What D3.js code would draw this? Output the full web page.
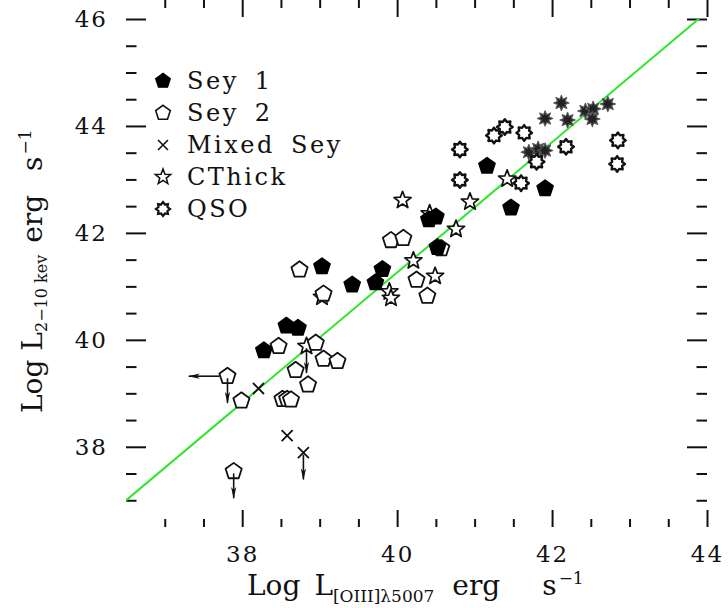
<!DOCTYPE html>
<html>
<head>
<meta charset="utf-8">
<script src="https://cdn.jsdelivr.net/npm/d3@7"></script>
<style>
  body { margin: 0; background: #fff; }
  text { font-family: "DejaVu Serif", serif; fill: #111; }
</style>
</head>
<body>
<svg width="728" height="608"></svg>
<script>
//************************* DATA ***************************//

// [log L_OIII, log L_2-10keV]
var sey1 = [
  [38.28, 39.80], [38.57, 40.26], [38.72, 40.22], [39.03, 41.37], [39.42, 41.03],
  [39.72, 41.07], [39.81, 41.32], [40.41, 42.25], [40.50, 42.30], [40.52, 41.73],
  [41.16, 43.25], [41.47, 42.47], [41.91, 42.83]
];
var sey2 = [
  [37.81, 39.32], [37.99, 38.86], [37.89, 37.54], [38.47, 39.88], [38.52, 38.89],
  [38.58, 38.89], [38.63, 38.88], [38.69, 39.43], [38.85, 39.16], [38.95, 39.94],
  [39.05, 39.64], [39.23, 39.60], [38.74, 41.31], [39.05, 40.86], [39.92, 41.86],
  [40.08, 41.90], [40.25, 41.12], [40.39, 40.82], [40.57, 41.71]
];
var mixedSey = [[38.21, 39.09], [38.58, 38.21], [38.79, 37.89]];
var cthick = [
  [38.83, 39.88], [39.03, 40.80], [39.90, 40.90], [39.92, 40.78], [40.07, 42.61],
  [40.21, 41.48], [40.49, 41.19], [40.42, 42.36], [40.76, 42.07], [40.94, 42.58],
  [41.42, 43.01]
];
var qso = [
  [40.81, 43.56], [40.81, 42.99], [41.25, 43.82], [41.39, 43.98], [41.64, 43.87],
  [41.60, 42.93], [41.80, 43.33], [42.18, 43.61], [42.85, 43.73], [42.84, 43.29]
];
// darker starburst points (not in legend)
var qsoDark = [
  [41.70, 43.51], [41.82, 43.57], [41.91, 43.54], [41.91, 44.14], [42.12, 44.43],
  [42.20, 44.11], [42.43, 44.28], [42.53, 44.32], [42.52, 44.13], [42.72, 44.41]
];

// upper limits
var limitsDown = [[37.81, 39.32], [37.89, 37.54], [38.79, 37.89], [38.83, 39.88]];
var limitsLeft = [[37.81, 39.32]];

// linear relation
var fitSlope = 1.218;
var fitIntercept = -7.46;

var legendLabels = ["Sey 1", "Sey 2", "Mixed Sey", "CThick", "QSO"];
var xMajor = [38, 40, 42, 44];
var yMajor = [38, 40, 42, 44, 46];

//************************* CHART ***************************//

var svg = d3.select("svg");

var x = d3.scaleLinear().domain([36.5, 44]).range([126, 707]);
var y = d3.scaleLinear().domain([36.5, 46]).range([527, 19]);

var xMinor = d3.range(37, 44, 0.5).filter(function (v) { return v % 2 !== 0; });
var yMinor = d3.range(37, 46, 0.5).filter(function (v) { return v % 2 !== 0; });

// Shapes
function polygon(n, r) {
  var pts = d3.range(n).map(function (i) {
    var a = 2 * Math.PI * i / n - Math.PI / 2;
    return [r * Math.cos(a), r * Math.sin(a)];
  });
  return d3.line()(pts) + "Z";
}
function starPath(n, ro, ri) {
  var pts = d3.range(2 * n).map(function (i) {
    var r = i % 2 ? ri : ro, a = Math.PI * i / n - Math.PI / 2;
    return [r * Math.cos(a), r * Math.sin(a)];
  });
  return d3.line()(pts) + "Z";
}
var shapes = {
  sey1:  { d: polygon(5, 8.5), fill: "#000", stroke: "#000", sw: 1.5 },
  sey2:  { d: polygon(5, 8.5), fill: "#fff", stroke: "#111", sw: 1.8 },
  mixed: { d: "M-5.5,-5.5L5.5,5.5M-5.5,5.5L5.5,-5.5", fill: "none", stroke: "#111", sw: 1.8 },
  star:  { d: starPath(5, 9, 3.8), fill: "#fff", stroke: "#111", sw: 1.7 },
  qso:   { d: starPath(8, 7.8, 5.4), fill: "#fff", stroke: "#111", sw: 2.4 },
  dark:  { d: starPath(8, 7.6, 4), fill: "#222", stroke: "#555", sw: 1.2 }
};

// Frame and axes
var defs = svg.append("defs");
defs.append("clipPath").attr("id", "plotclip")
  .append("rect")
    .attr("x", x.range()[0]).attr("y", y.range()[1])
    .attr("width", x.range()[1] - x.range()[0])
    .attr("height", y.range()[0] - y.range()[1]);
defs.append("marker")
    .attr("id", "arrow")
    .attr("viewBox", "0 0 12 6")
    .attr("refX", 11).attr("refY", 3)
    .attr("markerWidth", 12).attr("markerHeight", 6)
    .attr("markerUnits", "userSpaceOnUse")
    .attr("orient", "auto")
  .append("path")
    .attr("d", "M0,0.4L12,3L0,5.6L3,3Z")
    .attr("fill", "#111");

function styleAxis(g) {
  g.select(".domain").remove();
  g.selectAll(".tick line").attr("stroke", "#111").attr("stroke-width", 2);
  g.selectAll(".tick text")
    .style("font-size", "23px")
    .style("letter-spacing", "2px")
    .attr("fill", "#111");
}

var bottom = y.range()[0], top = y.range()[1], left = x.range()[0], right = x.range()[1];

svg.append("g").attr("transform", "translate(0," + bottom + ")")
  .call(d3.axisBottom(x).tickValues(xMajor).tickSize(-17).tickPadding(19).tickFormat(d3.format("d")))
  .call(styleAxis);
svg.append("g").attr("transform", "translate(0," + bottom + ")")
  .call(d3.axisBottom(x).tickValues(xMinor).tickSize(-8).tickFormat(""))
  .call(styleAxis);
svg.append("g").attr("transform", "translate(0," + top + ")")
  .call(d3.axisTop(x).tickValues(xMajor).tickSize(-17).tickFormat(""))
  .call(styleAxis);
svg.append("g").attr("transform", "translate(0," + top + ")")
  .call(d3.axisTop(x).tickValues(xMinor).tickSize(-8).tickFormat(""))
  .call(styleAxis);

svg.append("g").attr("transform", "translate(" + left + ",0)")
  .call(d3.axisLeft(y).tickValues(yMajor).tickSize(-20).tickPadding(18).tickFormat(d3.format("d")))
  .call(styleAxis);
svg.append("g").attr("transform", "translate(" + left + ",0)")
  .call(d3.axisLeft(y).tickValues(yMinor).tickSize(-10.5).tickFormat(""))
  .call(styleAxis);
svg.append("g").attr("transform", "translate(" + right + ",0)")
  .call(d3.axisRight(y).tickValues(yMajor).tickSize(-20).tickFormat(""))
  .call(styleAxis);
svg.append("g").attr("transform", "translate(" + right + ",0)")
  .call(d3.axisRight(y).tickValues(yMinor).tickSize(-10.5).tickFormat(""))
  .call(styleAxis);

svg.append("rect")
  .attr("x", left).attr("y", top)
  .attr("width", right - left).attr("height", bottom - top)
  .attr("fill", "none").attr("stroke", "#111").attr("stroke-width", 2);

// Relation line
var xd = x.domain();
svg.append("line")
  .attr("clip-path", "url(#plotclip)")
  .attr("x1", x(xd[0])).attr("y1", y(fitIntercept + fitSlope * xd[0]))
  .attr("x2", x(xd[1])).attr("y2", y(fitIntercept + fitSlope * xd[1]))
  .attr("stroke", "#2ee62e").attr("stroke-width", 2);

// Points
function drawSet(data, key) {
  var s = shapes[key];
  svg.append("g").selectAll("path")
    .data(data)
    .enter().append("path")
      .attr("transform", function (d) { return "translate(" + x(d[0]) + "," + y(d[1]) + ")"; })
      .attr("d", s.d)
      .attr("fill", s.fill)
      .attr("stroke", s.stroke)
      .attr("stroke-width", s.sw)
      .attr("stroke-linejoin", "round");
}
drawSet(qsoDark, "dark");
drawSet(qso, "qso");
drawSet(cthick, "star");
drawSet(sey2, "sey2");
drawSet(sey1, "sey1");
drawSet(mixedSey, "mixed");

// Upper-limit arrows
var arrows = svg.append("g").attr("stroke", "#111").attr("stroke-width", 1.6);
arrows.selectAll(".down")
  .data(limitsDown)
  .enter().append("line")
    .attr("x1", function (d) { return x(d[0]); })
    .attr("y1", function (d) { return y(d[1]) + 2; })
    .attr("x2", function (d) { return x(d[0]); })
    .attr("y2", function (d) { return y(d[1] - 0.5); })
    .attr("marker-end", "url(#arrow)");
arrows.selectAll(".left")
  .data(limitsLeft)
  .enter().append("line")
    .attr("x1", function (d) { return x(d[0]) - 8; })
    .attr("y1", function (d) { return y(d[1]); })
    .attr("x2", function (d) { return x(d[0] - 0.5); })
    .attr("y2", function (d) { return y(d[1]); })
    .attr("marker-end", "url(#arrow)");

// Legend
var legendKeys = ["sey1", "sey2", "mixed", "star", "qso"];
var legend = svg.append("g").attr("transform", "translate(163,89)");
var rows = legend.selectAll("g")
  .data(legendLabels)
  .enter().append("g")
    .attr("transform", function (d, i) { return "translate(0," + (i * 32) + ")"; });
rows.append("path")
  .attr("transform", "translate(0,-8) scale(0.9)")
  .attr("d", function (d, i) { return shapes[legendKeys[i]].d; })
  .attr("fill", function (d, i) { return shapes[legendKeys[i]].fill; })
  .attr("stroke", function (d, i) { return shapes[legendKeys[i]].stroke; })
  .attr("stroke-width", function (d, i) { return shapes[legendKeys[i]].sw; });
rows.append("text")
  .attr("x", 24)
  .style("font-size", "24px")
  .style("letter-spacing", "2.5px")
  .style("word-spacing", "6px")
  .text(function (d) { return d; });

// Axis titles
var xt = svg.append("text")
  .attr("x", 247).attr("y", 595)
  .style("font-size", "28px");
xt.append("tspan").text("Log");
xt.append("tspan").attr("dx", 14).text("L");
xt.append("tspan").attr("dy", 7).style("font-size", "17px").text("[OIII]λ5007");
xt.append("tspan").attr("dx", 18).attr("dy", -7).text("erg");
xt.append("tspan").attr("dx", 42).text("s");
xt.append("tspan").attr("dx", 2).attr("dy", -11).style("font-size", "17px").text("−1");

var yt = svg.append("text")
  .attr("transform", "translate(42,413) rotate(-90)")
  .style("font-size", "28px");
yt.append("tspan").text("Log");
yt.append("tspan").attr("dx", 9).text("L");
yt.append("tspan").attr("dy", 5).style("font-size", "16px").text("2−10 kev");
yt.append("tspan").attr("dx", 12).attr("dy", -5).text("erg");
yt.append("tspan").attr("dx", 24).text("s");
yt.append("tspan").attr("dx", 2).attr("dy", -11).style("font-size", "17px").text("−1");
</script>
</body>
</html>
